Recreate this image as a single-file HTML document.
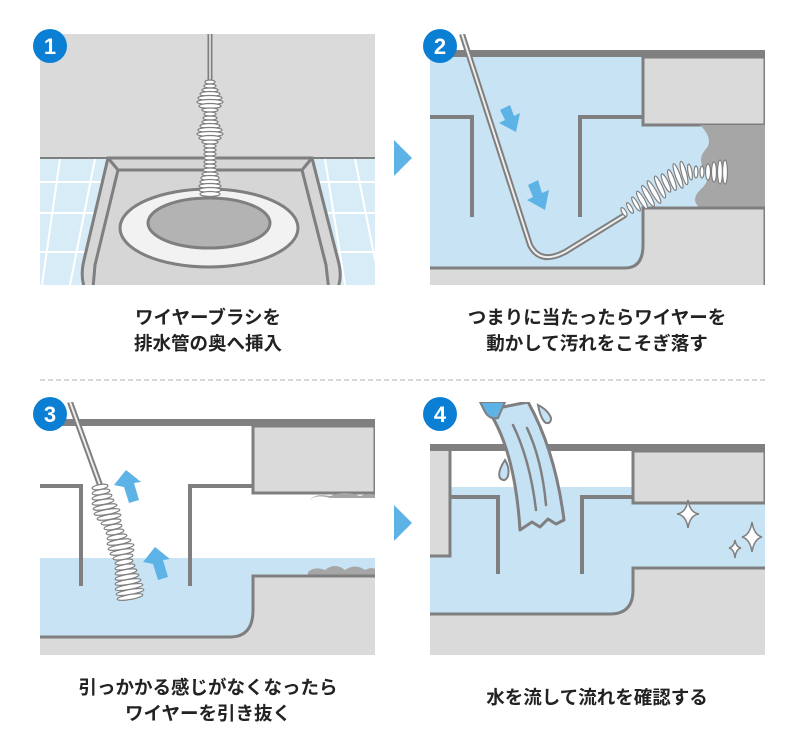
<!DOCTYPE html>
<html><head><meta charset="utf-8"><style>
body{margin:0;background:#fff;width:800px;height:747px;overflow:hidden}
svg{display:block}
text{font-family:"Liberation Sans","Noto Sans CJK JP",sans-serif;font-weight:bold;font-size:18.5px;fill:#222;text-anchor:middle}
</style></head><body>
<svg width="800" height="747" viewBox="0 0 800 747">
<defs>
<clipPath id="c1"><rect x="40" y="34" width="335" height="251"/></clipPath>
<clipPath id="c2"><rect x="430" y="34" width="335" height="251"/></clipPath>
<clipPath id="c3"><rect x="40" y="402" width="335" height="253"/></clipPath>
<clipPath id="c4"><rect x="430" y="402" width="335" height="253"/></clipPath>
</defs>

<!-- Panel 1 -->
<g clip-path="url(#c1)">
<rect x="40" y="34" width="335" height="125" fill="#dadada"/>
<rect x="40" y="159" width="335" height="126" fill="#d8ecf8"/>
<g stroke="#fff" stroke-width="2" fill="none">
<line x1="40" y1="182" x2="375" y2="182"/><line x1="40" y1="213" x2="375" y2="213"/><line x1="40" y1="252" x2="375" y2="252"/>
<line x1="60" y1="159" x2="42" y2="285"/><line x1="95" y1="159" x2="70" y2="285"/>
<line x1="325" y1="159" x2="345" y2="285"/><line x1="355" y1="159" x2="375" y2="260"/>
</g>
<line x1="40" y1="158" x2="375" y2="158" stroke="#7f7f7f" stroke-width="2"/>
<path d="M108 158 L312 158 L338 260 Q345 285 330 300 L92 300 Q78 285 84 260 Z" fill="#d6d6d6" stroke="#7f7f7f" stroke-width="3"/>
<path d="M118 170 L302 170 L326 265 L330 300 M118 170 L95 265 L92 300" fill="none" stroke="#7f7f7f" stroke-width="3"/>
<line x1="108" y1="158" x2="118" y2="170" stroke="#7f7f7f" stroke-width="3"/>
<line x1="312" y1="158" x2="302" y2="170" stroke="#7f7f7f" stroke-width="3"/>
<ellipse cx="209" cy="228" rx="89" ry="39" fill="#f2f2f2" stroke="#7f7f7f" stroke-width="3"/>
<ellipse cx="209" cy="223" rx="61" ry="25" fill="#b3b3b3" stroke="#7f7f7f" stroke-width="3"/>
<line x1="210" y1="34" x2="210" y2="85" stroke="#7f7f7f" stroke-width="5"/>
<line x1="210" y1="34" x2="210" y2="85" stroke="#eee" stroke-width="1.5"/>
<g fill="#fff" stroke="#7f7f7f" stroke-width="1.2">
<ellipse cx="210" cy="82" rx="5" ry="2"/><ellipse cx="210" cy="86" rx="6" ry="2"/><ellipse cx="210" cy="90" rx="8" ry="2"/>
<ellipse cx="210" cy="94" rx="10" ry="2.5"/><ellipse cx="210" cy="98" rx="12" ry="2.5"/><ellipse cx="210" cy="102" rx="13" ry="2.5"/>
<ellipse cx="210" cy="106" rx="11" ry="2.5"/><ellipse cx="210" cy="110" rx="8" ry="2"/><ellipse cx="210" cy="114" rx="6" ry="2"/>
<ellipse cx="210" cy="118" rx="7" ry="2"/><ellipse cx="210" cy="122" rx="8" ry="2"/><ellipse cx="210" cy="126" rx="10" ry="2.5"/>
<ellipse cx="210" cy="130" rx="12" ry="2.5"/><ellipse cx="210" cy="134" rx="13" ry="2.5"/><ellipse cx="210" cy="138" rx="11" ry="2.5"/>
<ellipse cx="210" cy="142" rx="8" ry="2"/><ellipse cx="210" cy="146" rx="6" ry="2"/><ellipse cx="210" cy="150" rx="6" ry="2"/>
<ellipse cx="210" cy="154" rx="6" ry="2"/><ellipse cx="210" cy="158" rx="6" ry="2"/><ellipse cx="210" cy="162" rx="6" ry="2"/>
<ellipse cx="210" cy="166" rx="6" ry="2"/><ellipse cx="210" cy="170" rx="7" ry="2"/><ellipse cx="210" cy="174" rx="8" ry="2"/>
<ellipse cx="210" cy="178" rx="9" ry="2.5"/><ellipse cx="210" cy="182" rx="10" ry="2.5"/><ellipse cx="210" cy="186" rx="11" ry="2.5"/>
<ellipse cx="210" cy="190" rx="11" ry="2.5"/><ellipse cx="210" cy="194" rx="10" ry="2.5"/>
</g>
</g>

<!-- Panel 2 -->
<g clip-path="url(#c2)">
<rect x="430" y="57" width="335" height="228" fill="#c8e4f4"/>
<path d="M643 57 L765 57 L765 125 L643 125 Z" fill="#dadada" stroke="#7f7f7f" stroke-width="3"/>
<path d="M700 125 L765 125 L765 208 L700 208 Q690 200 700 190 Q712 180 705 170 Q697 160 705 150 Q715 140 700 125 Z" fill="#a6a6a6"/>
<path d="M420 268 L625 268 Q643 268 643 245 L643 208 L765 208 L765 295 L420 295 Z" fill="#dadada" stroke="#7f7f7f" stroke-width="3"/>
<rect x="430" y="50" width="335" height="7" fill="#808080"/>
<path d="M430 117 L472 117 L472 217 M580 217 L580 117 L643 117" fill="none" stroke="#7f7f7f" stroke-width="4"/>
<path d="M462 34 L530 245 Q540 265 565 252 L625 215" fill="none" stroke="#7f7f7f" stroke-width="6"/>
<path d="M462 34 L530 245 Q540 265 565 252 L625 215" fill="none" stroke="#eee" stroke-width="2"/>
<g fill="#fff" stroke="#7f7f7f" stroke-width="1.2">
<ellipse cx="624" cy="212" rx="2" ry="5" transform="rotate(-30 624 212)"/>
<ellipse cx="630" cy="208" rx="2" ry="6" transform="rotate(-30 630 208)"/>
<ellipse cx="636" cy="204" rx="2" ry="8" transform="rotate(-30 636 204)"/>
<ellipse cx="642" cy="200" rx="2.5" ry="10" transform="rotate(-30 642 200)"/>
<ellipse cx="648" cy="196" rx="2.5" ry="12" transform="rotate(-30 648 196)"/>
<ellipse cx="654" cy="192" rx="2.5" ry="13" transform="rotate(-30 654 192)"/>
<ellipse cx="660" cy="187" rx="2.5" ry="12" transform="rotate(-25 660 187)"/>
<ellipse cx="666" cy="183" rx="2.5" ry="10" transform="rotate(-25 666 183)"/>
<ellipse cx="672" cy="180" rx="2.5" ry="11" transform="rotate(-20 672 180)"/>
<ellipse cx="678" cy="176" rx="2.5" ry="13" transform="rotate(-20 678 176)"/>
<ellipse cx="684" cy="173" rx="2.5" ry="12" transform="rotate(-15 684 173)"/>
<ellipse cx="690" cy="172" rx="2" ry="8" transform="rotate(-10 690 172)"/>
<ellipse cx="696" cy="172" rx="2" ry="6"/>
<ellipse cx="702" cy="172" rx="2" ry="6"/>
<ellipse cx="708" cy="172" rx="2.5" ry="8"/>
<ellipse cx="714" cy="172" rx="2.5" ry="10"/>
<ellipse cx="720" cy="172" rx="2.5" ry="12"/>
<ellipse cx="725" cy="172" rx="2.5" ry="12"/>
</g>
<g fill="#5db3e6">
<path d="M500 110 L510 105 L514 116 L520 113 L516 132 L499 123 L505 120 Z"/>
<path d="M528 185 L538 180 L542 193 L549 190 L545 210 L527 200 L533 197 Z"/>
</g>
</g>

<!-- Panel 3 -->
<g clip-path="url(#c3)">
<rect x="40" y="558" width="335" height="97" fill="#c8e4f4"/>
<path d="M253 426 L375 426 L375 493 L253 493 Z" fill="#dadada" stroke="#7f7f7f" stroke-width="3"/>
<path d="M310 500 Q315 493 330 496 Q345 490 360 496 Q370 492 380 496 L380 508 L310 508 Z" fill="#a6a6a6"/>
<path d="M310 500 Q316 494 330 498 L345 498 L375 498 L375 520 L310 520 Z" fill="#fff"/>
<path d="M308 572 Q315 566 325 570 Q335 562 345 570 Q355 563 365 570 Q372 566 380 570 L380 580 L308 580 Z" fill="#a6a6a6"/>
<path d="M308 572 Q318 558 330 566 Q340 556 350 566 Q362 558 372 568 L380 570 L380 560 L308 560 Z" fill="#c8e4f4"/>
<path d="M30 637 L230 637 Q253 637 253 610 L253 576 L385 576 L385 665 L30 665 Z" fill="#dadada" stroke="#7f7f7f" stroke-width="3"/>
<rect x="40" y="419" width="335" height="7" fill="#808080"/>
<path d="M40 486 L81 486 L81 586 M190 586 L190 486 L253 486" fill="none" stroke="#7f7f7f" stroke-width="4"/>
<path d="M70 402 L100 485" fill="none" stroke="#7f7f7f" stroke-width="6"/>
<path d="M70 402 L100 485" fill="none" stroke="#eee" stroke-width="2"/>
<g fill="#fff" stroke="#7f7f7f" stroke-width="1.2">
<ellipse cx="100" cy="487" rx="8" ry="2.5" transform="rotate(-10 100 487)"/>
<ellipse cx="101" cy="492" rx="9" ry="2.5" transform="rotate(-10 101 492)"/>
<ellipse cx="102" cy="497" rx="10" ry="2.5" transform="rotate(-10 102 497)"/>
<ellipse cx="103" cy="502" rx="11" ry="2.5" transform="rotate(-10 103 502)"/>
<ellipse cx="105" cy="507" rx="12" ry="2.5" transform="rotate(-10 105 507)"/>
<ellipse cx="107" cy="512" rx="13" ry="2.5" transform="rotate(-10 107 512)"/>
<ellipse cx="109" cy="517" rx="12" ry="2.5" transform="rotate(-10 109 517)"/>
<ellipse cx="111" cy="522" rx="10" ry="2.5" transform="rotate(-10 111 522)"/>
<ellipse cx="113" cy="527" rx="9" ry="2.5" transform="rotate(-10 113 527)"/>
<ellipse cx="115" cy="532" rx="9" ry="2.5" transform="rotate(-10 115 532)"/>
<ellipse cx="117" cy="537" rx="10" ry="2.5" transform="rotate(-10 117 537)"/>
<ellipse cx="119" cy="542" rx="12" ry="2.5" transform="rotate(-10 119 542)"/>
<ellipse cx="121" cy="547" rx="13" ry="2.5" transform="rotate(-10 121 547)"/>
<ellipse cx="122" cy="552" rx="12" ry="2.5" transform="rotate(-10 122 552)"/>
<ellipse cx="123" cy="557" rx="10" ry="2.5" transform="rotate(-10 123 557)"/>
<ellipse cx="124" cy="562" rx="9" ry="2.5" transform="rotate(-10 124 562)"/>
<ellipse cx="125" cy="567" rx="10" ry="2.5" transform="rotate(-10 125 567)"/>
<ellipse cx="126" cy="572" rx="11" ry="2.5" transform="rotate(-10 126 572)"/>
<ellipse cx="127" cy="577" rx="12" ry="2.5" transform="rotate(-10 127 577)"/>
<ellipse cx="128" cy="582" rx="13" ry="2.5" transform="rotate(-10 128 582)"/>
<ellipse cx="129" cy="587" rx="14" ry="2.5" transform="rotate(-10 129 587)"/>
<ellipse cx="130" cy="592" rx="14" ry="2.5" transform="rotate(-10 130 592)"/>
<ellipse cx="130" cy="597" rx="13" ry="2.5" transform="rotate(-10 130 597)"/>
</g>
<g fill="#5db3e6">
<path d="M114 485 L126 470 L141 482 L134 483 L139 500 L129 503 L124 487 Z"/>
<path d="M143 562 L155 547 L170 559 L163 560 L168 577 L158 580 L153 564 Z"/>
</g>
</g>

<!-- Panel 4 -->
<g clip-path="url(#c4)">
<rect x="430" y="487" width="335" height="168" fill="#c8e4f4"/>
<rect x="430" y="451" width="20" height="105" fill="#dadada"/>
<path d="M430 556 L450 556 L450 451" fill="none" stroke="#7f7f7f" stroke-width="3"/>
<path d="M633 451 L765 451 L765 503 L633 503 Z" fill="#dadada" stroke="#7f7f7f" stroke-width="3"/>
<path d="M420 614 L610 614 Q633 614 633 590 L633 568 L775 568 L775 665 L420 665 Z" fill="#dadada" stroke="#7f7f7f" stroke-width="3"/>
<rect x="430" y="444" width="335" height="7" fill="#808080"/>
<path d="M450 497 L498 497 L498 574 M582 574 L582 497 L633 497" fill="none" stroke="#7f7f7f" stroke-width="4"/>
<path d="M488 410 Q515 450 520 530 L532 522 L540 527 L548 519 L556 524 L564 520 Q555 450 528 402 Z" fill="#c5e2f4" stroke="#7f7f7f" stroke-width="3" stroke-linejoin="round"/>
<path d="M513 425 Q530 460 536 510 M527 428 Q542 460 546 505" fill="none" stroke="#7f7f7f" stroke-width="2.5" stroke-linecap="round"/>
<path d="M480 402 L505 402 L498 418 Q490 420 485 412 Z" fill="#5db3e6" stroke="#7f7f7f" stroke-width="2"/>
<path d="M505 460 Q497 472 500 478 Q505 483 508 476 Q510 468 505 460 Z" fill="#c5e2f4" stroke="#7f7f7f" stroke-width="2"/>
<path d="M538 405 Q548 410 551 418 Q551 424 546 423 Q541 420 538 405 Z" fill="#c5e2f4" stroke="#7f7f7f" stroke-width="2"/>
<g fill="#fff" stroke="#7f7f7f" stroke-width="1.5">
<path d="M688 500 Q690 513 699 514 Q690 515 688 528 Q686 515 677 514 Q686 513 688 500 Z"/>
<path d="M752 522 Q754 535 762 537 Q754 539 752 552 Q750 539 742 537 Q750 535 752 522 Z"/>
<path d="M735 540 Q736 547 741 548 Q736 549 735 558 Q734 549 729 548 Q734 547 735 540 Z"/>
</g>
</g>

<!-- number badges -->
<g>
<circle cx="50" cy="46" r="17" fill="#0a7fd4"/><text x="50" y="54" style="fill:#fff;font-size:22px">1</text>
<circle cx="440" cy="46" r="17" fill="#0a7fd4"/><text x="440" y="54" style="fill:#fff;font-size:22px">2</text>
<circle cx="50" cy="414" r="17" fill="#0a7fd4"/><text x="50" y="422" style="fill:#fff;font-size:22px">3</text>
<circle cx="440" cy="414" r="17" fill="#0a7fd4"/><text x="440" y="422" style="fill:#fff;font-size:22px">4</text>
</g>

<path d="M394 140 L412 158 L394 176 Z" fill="#5db3e6"/>
<path d="M394 505 L412 523 L394 541 Z" fill="#5db3e6"/>

<line x1="40" y1="380" x2="765" y2="380" stroke="#ccc" stroke-width="1.5" stroke-dasharray="5 3"/>

<text x="208" y="324">ワイヤーブラシを</text>
<text x="208" y="350">排水管の奥へ挿入</text>
<text x="597" y="324">つまりに当たったらワイヤーを</text>
<text x="597" y="350">動かして汚れをこそぎ落す</text>
<text x="208" y="694">引っかかる感じがなくなったら</text>
<text x="208" y="720">ワイヤーを引き抜く</text>
<text x="597" y="704">水を流して流れを確認する</text>
</svg>
</body></html>
